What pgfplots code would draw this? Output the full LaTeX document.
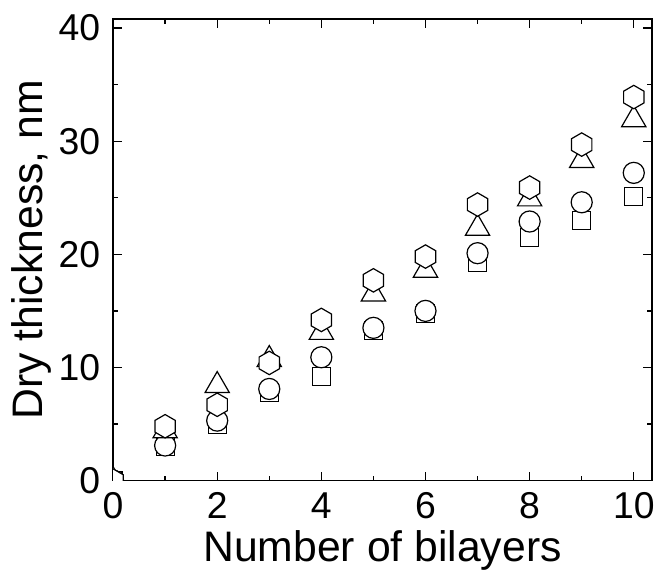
\documentclass[border=0pt]{standalone}
\usepackage{pgfplots}
\pgfplotsset{compat=1.18}
\usepackage{fontspec}
\setmainfont{Liberation Sans}

% hexagon with a vertex on top
\pgfdeclareplotmark{hexagon}{%
  \pgfpathmoveto{\pgfqpointpolar{90}{\pgfplotmarksize}}%
  \pgfpathlineto{\pgfqpointpolar{150}{\pgfplotmarksize}}%
  \pgfpathlineto{\pgfqpointpolar{210}{\pgfplotmarksize}}%
  \pgfpathlineto{\pgfqpointpolar{270}{\pgfplotmarksize}}%
  \pgfpathlineto{\pgfqpointpolar{330}{\pgfplotmarksize}}%
  \pgfpathlineto{\pgfqpointpolar{30}{\pgfplotmarksize}}%
  \pgfpathclose
  \pgfusepathqfillstroke
}

\begin{document}
\begin{tikzpicture}
\begin{axis}[
  scale only axis,
  width=404pt, height=346pt,
  xmin=0, xmax=10.35,
  ymin=0, ymax=40.8,
  xtick={0,2,...,10}, minor xtick={1,3,...,9},
  ytick={0,10,...,40}, minor ytick={5,15,...,35},
  tick align=inside,
  major tick length=6.75pt, minor tick length=3.75pt,
  axis line style={line width=1.3pt},
  every tick/.style={line width=1pt, black},
  tick label style={font=\fontsize{28}{32}\selectfont, inner sep=0pt},
  xticklabel style={anchor=base, yshift=-28.5pt},
  yticklabel style={anchor=east, xshift=-9.5pt},
  /pgf/number format/assume math mode=true,
  label style={font=\fontsize{32}{36}\selectfont, inner sep=0pt},
  xlabel={Number of bilayers},
  ylabel={Dry thickness, nm},
  xlabel style={at={(axis description cs:0.5,-0.1745)}, anchor=base},
  ylabel style={at={(axis description cs:-0.1312,0.5)}, anchor=base, rotate=0},
  clip=true,
  clip marker paths=true,
  only marks,
  every axis plot/.append style={mark options={fill=white, line width=0.9pt, solid}},
]
% squares
\addplot[black, mark=square*, mark size=6.75pt] coordinates {
(0,0) (1,3.0) (2,4.95) (3,7.8) (4,9.2) (5,13.3) (6,14.8) (7,19.3) (8,21.5) (9,23.0) (10,25.1)};
% circles
\addplot[black, mark=*, mark size=7.9pt] coordinates {
(0,0) (1,3.1) (2,5.3) (3,8.1) (4,10.9) (5,13.5) (6,15.0) (7,20.1) (8,22.9) (9,24.6) (10,27.2)};
% triangles
\addplot[black, mark=triangle*, mark size=10.5pt] coordinates {
(0,0) (1,4.4) (2,8.4) (3,10.7) (4,13.1) (5,16.5) (6,18.6) (7,22.3) (8,24.9) (9,28.3) (10,31.9)};
% hexagons
\addplot[black, mark=hexagon, mark size=8.8pt] coordinates {
(0,0) (1,4.8) (2,6.7) (3,10.4) (4,14.2) (5,17.7) (6,19.8) (7,24.4) (8,25.9) (9,29.7) (10,33.9)};
\coordinate (A) at (rel axis cs:0,0);
\coordinate (B) at (rel axis cs:1,1);
\end{axis}
\pgfresetboundingbox
\path[use as bounding box] ([shift={(-84.75pt,-68.25pt)}]A) rectangle ([shift={(3.75pt,14.25pt)}]B);
\end{tikzpicture}
\end{document}
